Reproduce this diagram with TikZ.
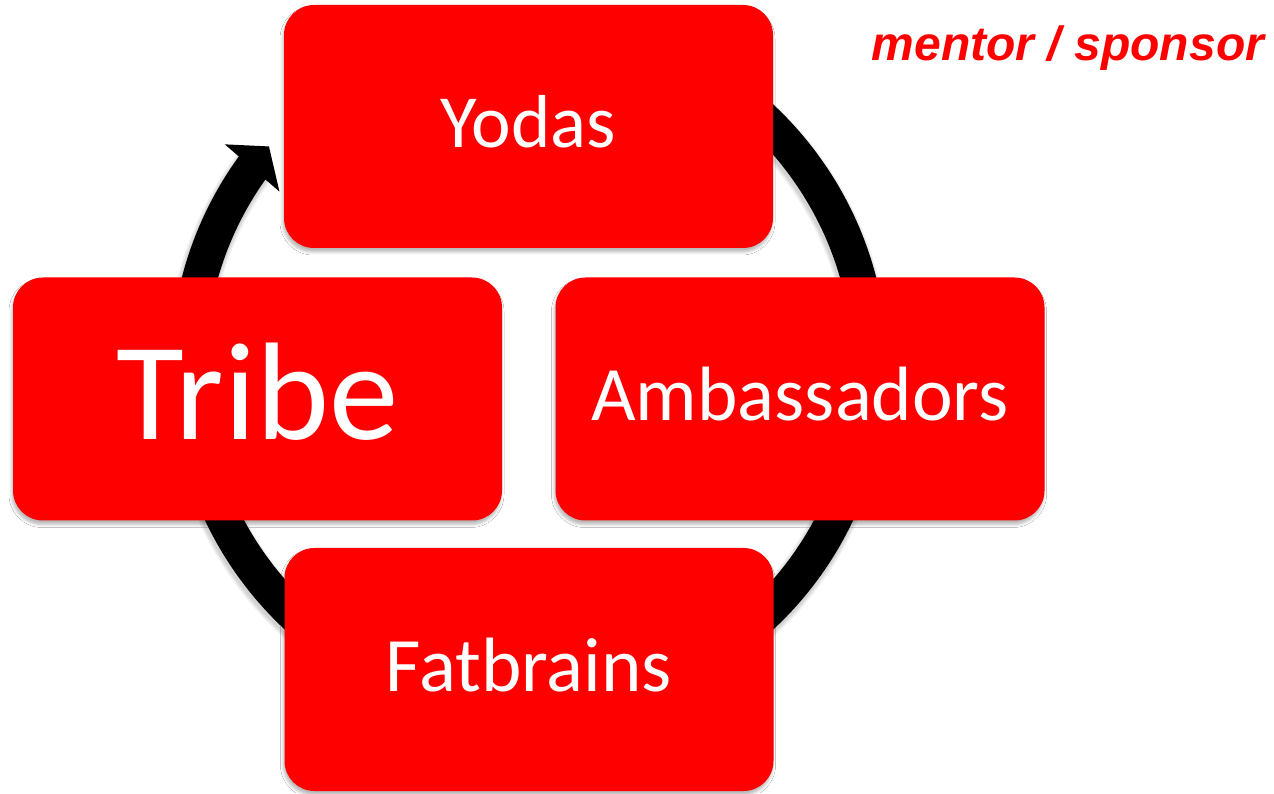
\documentclass[tikz,border=0pt]{standalone}
\usepackage{fontspec}
\setmainfont{Carlito}
\newfontfamily\labelfont{Liberation Sans}
\usetikzlibrary{calc,shadows.blur}
\definecolor{boxred}{RGB}{255,0,0}
\tikzset{
  stage/.style={draw=none, fill=boxred, rounded corners=30pt,
    minimum width=489pt, minimum height=243pt, inner sep=0pt,
    text=white, text depth=10pt,
    blur shadow={shadow xshift=-1pt, shadow yshift=-4pt,
      shadow blur radius=3pt, shadow opacity=28}},
  ring/.style={line width=35pt, draw=black},
  ringshadow/.style={draw=black, opacity=0.06},
}
\begin{document}
\begin{tikzpicture}[x=1pt,y=1pt]
\useasboundingbox (0,0) rectangle (1274,793);
\fill[white] (0,0) rectangle (1274,793);
\coordinate (c) at (529,426);
% faint shadow under the cycle ring
\foreach \w in {43,40,37}
  \draw[ringshadow, line width=\w pt] ($(c)+(-1,-3)+(125:341)$)
    arc[start angle=125, end angle=-216.5, radius=341];
% the cycle ring and its arrowhead
\draw[ring] ($(c)+(125:341)$) arc[start angle=125, end angle=-216.5, radius=341];
\fill[black] ($(c)+(143.8:377)$) -- ($(c)+(139.7:341)$) -- ($(c)+(144.9:305)$) -- cycle;
% the four stages
\node[stage, font=\fontsize{75}{80}\selectfont] (yodas) at (528.5,666.5) {Yodas};
\node[stage, text depth=16pt, font=\fontsize{139}{150}\selectfont] (tribe) at (257.5,394) {Tribe};
\node[stage, font=\fontsize{77}{80}\selectfont] (amb) at (800,394) {Ambassadors};
\node[stage, font=\fontsize{77}{80}\selectfont] (fat) at (529,123.5) {Fatbrains};
% caption at the top right
\node[anchor=base, inner sep=0pt, text=boxred,
  font=\labelfont\bfseries\itshape\fontsize{48}{50}\selectfont] (tag) at (1068,732) {mentor / sponsor};
\end{tikzpicture}
\end{document}
